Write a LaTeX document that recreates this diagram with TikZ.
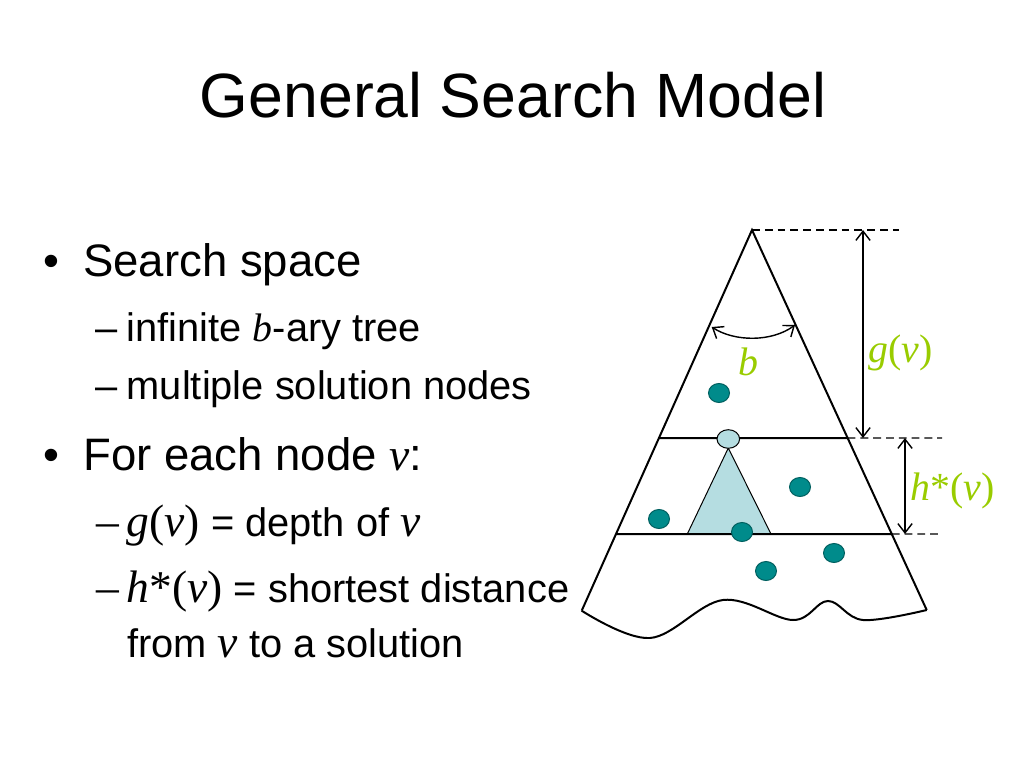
\documentclass[tikz,border=0pt]{standalone}
\usepackage{fontspec}
\setmainfont{Liberation Sans}
\newfontfamily\timesfont{Liberation Serif}
\usetikzlibrary{calc,arrows.meta}
\definecolor{labelgreen}{HTML}{99CC00}
\definecolor{solfill}{HTML}{008B8B}
\definecolor{solline}{HTML}{005F5F}
\definecolor{subfill}{HTML}{B5DDE1}
\newcommand{\mvar}[1]{{\timesfont\itshape #1}}
\newcommand{\mup}[1]{{\timesfont #1}}
\newcommand{\sizeA}{\fontsize{32}{38}\selectfont}
\newcommand{\sizeB}{\fontsize{28}{34}\selectfont}

\begin{document}
\begin{tikzpicture}[x=0.703125pt,y=-0.703125pt,
  txt/.style={inner sep=0pt,anchor=base west},
  edge/.style={line width=1.4pt},
  guide/.style={line width=1pt,dash pattern=on 5.5pt off 3.5pt},
  dim/.style={line width=1pt,{Straight Barb[length=6.5pt,width=10pt]}-{Straight Barb[length=6.5pt,width=10pt]}},
  sol/.style={fill=solfill,draw=solline,line width=0.7pt},
  lbl/.style={txt,text=labelgreen}]
  \useasboundingbox (0,0) rectangle (1024,768);

  % title and text
  \node[inner sep=0pt,anchor=base] (title) at (513,118) {\fontsize{44}{53}\selectfont General Search Model};

  \node[txt] (dot1) at (43,277) {\sizeA\textbullet};
  \node[txt] (space) at (83,277) {\sizeA Search space};
  \node[txt] (dash1) at (95,342) {\sizeB\textendash};
  \node[txt] (tree) at (126.5,342) {\sizeB infinite \mvar{b}-ary tree};
  \node[txt] (dash2) at (95,399) {\sizeB\textendash};
  \node[txt] (multi) at (126.5,399) {\sizeB multiple solution nodes};
  \node[txt] (dot2) at (43,470) {\sizeA\textbullet};
  \node[txt] (each) at (83,470) {\sizeA For each node \mvar{v}:};
  \node[txt] (dash3) at (96,536) {\sizeA\mup{\textendash}};
  \node[txt] (depth) at (126.5,536) {\sizeB{\sizeA\mvar{g}\mup{(}\mvar{v}\mup{)}} = depth of {\sizeA\mvar{v}}};
  \node[txt] (dash4) at (96,602) {\sizeA\mup{\textendash}};
  \node[txt] (dist) at (126.5,602) {\sizeB{\sizeA\mvar{h}\mup{*(}\mvar{v}\mup{)}} = shortest distance};
  \node[txt] (from) at (127,657) {\sizeB from {\sizeA\mvar{v}} to a solution};

  % big tree
  \coordinate (apex) at (752,230);
  \coordinate (baseL) at (581.7,610.7);
  \coordinate (baseR) at (926.7,610);
  \coordinate (cutAL) at ($(apex)!0.5466!(baseL)$);
  \coordinate (cutAR) at ($(apex)!0.5474!(baseR)$);
  \coordinate (cutBL) at ($(apex)!0.799!(baseL)$);
  \coordinate (cutBR) at ($(apex)!0.8!(baseR)$);

  % subtree below v
  \coordinate (subtop) at (728.3,448);
  \coordinate (subL) at (687.3,534);
  \coordinate (subR) at (771,534);
  \fill[subfill] (subtop) -- (subL) -- (subR) -- cycle;
  \draw[line width=0.7pt] (subL) -- (subtop) -- (subR);

  \draw[edge] (baseL) -- (apex) -- (baseR);
  \draw[edge] (cutAL) -- (cutAR);
  \draw[edge] (cutBL) -- (cutBR);
  \draw[edge] plot[smooth,tension=0.6] coordinates {(baseL) (650,638) (723,600) (793,620) (828,601) (863,620) (baseR)};

  \draw[fill=subfill,line width=0.7pt] (728.3,439) ellipse [x radius=11.3, y radius=9.3];

  \foreach \px/\py in {719/393, 800/487, 659/519, 742/532, 834/553, 766/571}
    \draw[sol] (\px,\py) ellipse [x radius=10.5, y radius=9.5];

  % branching factor
  \draw[dim] (711.7,327) .. controls (735,342) and (772,342) .. (795,325);
  \node[lbl] (blbl) at (738,375) {\sizeB\mvar{b}};

  % depth and distance
  \coordinate (gtop) at (899,230);
  \coordinate (gend) at (942,438);
  \coordinate (hend) at (942,534);
  \draw[guide] (apex) -- (gtop);
  \draw[guide] (cutAR) -- (gend);
  \draw[guide] (cutBR) -- (hend);
  \draw[dim] (863,230) -- (863,438);
  \draw[dim] (905,438) -- (905,534);
  \node[lbl] (glbl) at (868,362) {\sizeB\mvar{g}\mup{(}\mvar{v}\mup{)}};
  \node[lbl] (hlbl) at (910,500) {\sizeB\mvar{h}\mup{*(}\mvar{v}\mup{)}};
\end{tikzpicture}
\end{document}
